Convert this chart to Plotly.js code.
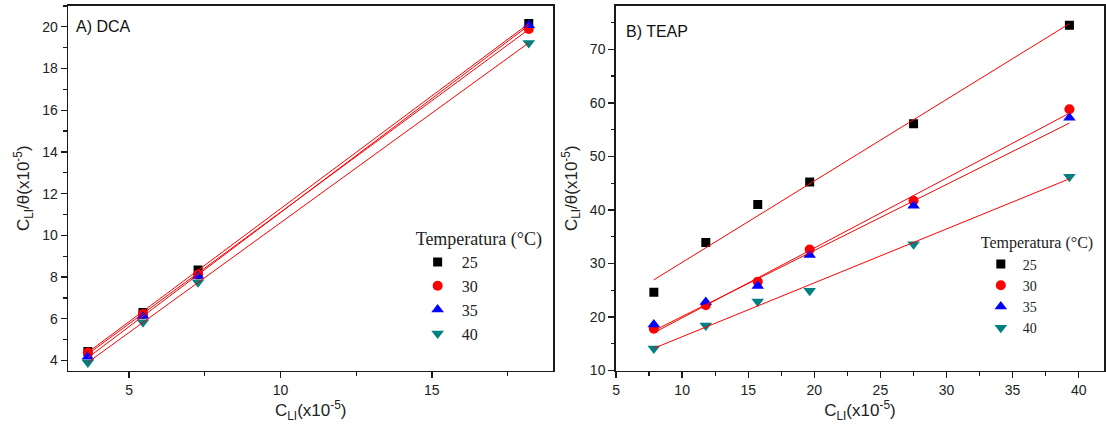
<!DOCTYPE html>
<html>
<head>
<meta charset="utf-8">
<script src="https://cdn.plot.ly/plotly-3.0.1.min.js"></script>
<style>html,body{margin:0;padding:0;background:#fff;}#chart{width:1106px;height:428px;}</style>
</head>
<body>
<div id="chart"></div>
<script>
// ---- Data ----
const tempLabels = ['25', '30', '35', '40'];

// Panel A) DCA
const dcaX = [3.64, 5.46, 7.28, 18.2];
const dca25 = [4.43, 6.30, 8.34, 20.16];
const dca30 = [4.38, 6.23, 8.12, 19.90];
const dca35 = [4.18, 6.13, 8.05, 20.08];
const dca40 = [3.90, 5.83, 7.75, 19.23];

// Panel B) TEAP
const teapX = [7.86, 11.79, 15.72, 19.65, 27.51, 39.3];
const teap25 = [24.6, 33.9, 41.0, 45.2, 56.1, 74.5];
const teap30 = [17.8, 22.2, 26.6, 32.6, 41.7, 58.8];
const teap35 = [18.6, 22.8, 25.8, 31.6, 40.8, 57.2];
const teap40 = [14.1, 18.4, 22.9, 24.9, 33.6, 46.2];

const symbols = ['square', 'circle', 'triangle-up', 'triangle-down'];
const colors = ['#000000', '#ff0000', '#0000ff', '#008080'];
const sizes = [9, 10, 11, 11];

function linfit(x, y) {
  const n = x.length;
  const mx = x.reduce((a, b) => a + b, 0) / n;
  const my = y.reduce((a, b) => a + b, 0) / n;
  let sxy = 0, sxx = 0;
  for (let i = 0; i < n; i++) { sxy += (x[i] - mx) * (y[i] - my); sxx += (x[i] - mx) ** 2; }
  const b = sxy / sxx, a = my - b * mx;
  const x0 = Math.min(...x), x1 = Math.max(...x);
  return { x: [x0, x1], y: [a + b * x0, a + b * x1] };
}

const traces = [];
const dcaSeries = [dca25, dca30, dca35, dca40];
const teapSeries = [teap25, teap30, teap35, teap40];

dcaSeries.forEach((ys, i) => {
  traces.push({
    x: dcaX, y: ys, type: 'scatter', mode: 'markers', name: tempLabels[i],
    xaxis: 'x', yaxis: 'y', legend: 'legend',
    marker: { symbol: symbols[i], color: colors[i], size: sizes[i] }
  });
});
teapSeries.forEach((ys, i) => {
  traces.push({
    x: teapX, y: ys, type: 'scatter', mode: 'markers', name: tempLabels[i],
    xaxis: 'x2', yaxis: 'y2', legend: 'legend2',
    marker: { symbol: symbols[i], color: colors[i], size: sizes[i] }
  });
});
dcaSeries.forEach((ys) => {
  const f = linfit(dcaX, ys);
  traces.push({ x: f.x, y: f.y, type: 'scatter', mode: 'lines', showlegend: false,
    xaxis: 'x', yaxis: 'y', line: { color: '#ff0000', width: 1 }, hoverinfo: 'skip' });
});
teapSeries.forEach((ys) => {
  const f = linfit(teapX, ys);
  traces.push({ x: f.x, y: f.y, type: 'scatter', mode: 'lines', showlegend: false,
    xaxis: 'x2', yaxis: 'y2', line: { color: '#ff0000', width: 1 }, hoverinfo: 'skip' });
});

const sans = "'Liberation Sans', Arial, sans-serif";
const serif = "'Liberation Serif', 'Times New Roman', serif";
const tickFont = { family: sans, size: 14, color: '#222' };
const titleFont = { family: sans, size: 17, color: '#222' };
const xTitle = 'C<sub>LI</sub>(x10<sup>-5</sup>)';
const yTitle = 'C<sub>LI</sub>/θ(x10<sup>-5</sup>)';

function axis(extra) {
  return Object.assign({
    showgrid: false, zeroline: false, showline: true, linecolor: '#1a1a1a', linewidth: 1.8,
    mirror: true, ticks: 'outside', ticklen: 6, tickwidth: 1.3, tickcolor: '#1a1a1a',
    tickfont: tickFont, automargin: false
  }, extra);
}

const layout = {
  width: 1106, height: 428,
  margin: { l: 0, r: 0, t: 0, b: 0 },
  paper_bgcolor: '#ffffff', plot_bgcolor: '#ffffff',
  showlegend: true,
  xaxis: axis({ domain: [0.0619, 0.5], range: [3, 19], tickvals: [5, 10, 15],
    minor: { dtick: 2.5, tick0: 0, ticks: 'outside', ticklen: 3.5, tickcolor: '#1a1a1a' },
    title: { text: xTitle, font: titleFont, standoff: 6 }, anchor: 'y' }),
  yaxis: axis({ domain: [0.1343, 0.986], range: [3.52, 21.0], dtick: 2, tick0: 0,
    minor: { dtick: 1, tick0: 0, ticks: 'outside', ticklen: 3.5, tickcolor: '#1a1a1a' },
    title: { text: yTitle, font: titleFont, standoff: 8 }, anchor: 'x' }),
  xaxis2: axis({ domain: [0.557, 0.998], range: [5, 41.9], dtick: 5, tick0: 0,
    minor: { dtick: 2.5, tick0: 0, ticks: 'outside', ticklen: 3.5, tickcolor: '#1a1a1a' },
    title: { text: xTitle, font: titleFont, standoff: 6 }, anchor: 'y2' }),
  yaxis2: axis({ domain: [0.1343, 0.986], range: [10, 78.1], dtick: 10, tick0: 0,
    minor: { dtick: 5, tick0: 0, ticks: 'outside', ticklen: 3.5, tickcolor: '#1a1a1a' },
    title: { text: yTitle, font: titleFont, standoff: 8 }, anchor: 'x2' }),
  legend: {
    x: 0.374, y: 0.482, xanchor: 'left', yanchor: 'top',
    bgcolor: 'rgba(0,0,0,0)', borderwidth: 0, itemwidth: 38,
    font: { family: serif, size: 16, color: '#222' },
    title: { text: 'Temperatura (°C)', font: { family: serif, size: 18, color: '#222' } },
    tracegroupgap: 0
  },
  legend2: {
    x: 0.885, y: 0.468, xanchor: 'left', yanchor: 'top',
    bgcolor: 'rgba(0,0,0,0)', borderwidth: 0, itemwidth: 34,
    font: { family: serif, size: 14, color: '#222' },
    title: { text: 'Temperatura (°C)', font: { family: serif, size: 16, color: '#222' } },
    tracegroupgap: 0
  },
  annotations: [
    { xref: 'paper', yref: 'paper', x: 0.0669, y: 1 - 26.7 / 428, xanchor: 'left', yanchor: 'middle',
      text: 'A) DCA', showarrow: false, font: { family: sans, size: 16, color: '#111' } },
    { xref: 'paper', yref: 'paper', x: 0.5645, y: 1 - 31.7 / 428, xanchor: 'left', yanchor: 'middle',
      text: 'B) TEAP', showarrow: false, font: { family: sans, size: 16, color: '#111' } }
  ]
};

Plotly.newPlot('chart', traces, layout, { staticPlot: true, displayModeBar: false });
</script>
</body>
</html>
